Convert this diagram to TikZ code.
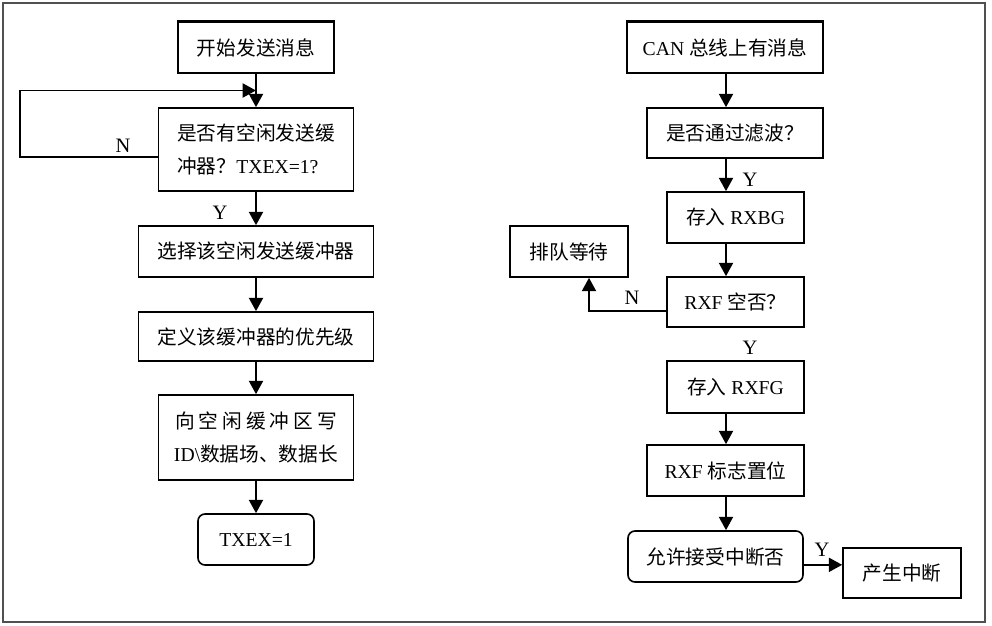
\documentclass[tikz,border=0pt]{standalone}
\usepackage{fontspec}
\setmainfont{Liberation Serif}
\newfontfamily\zhfont{Noto Sans CJK SC}
\newcommand{\zh}[1]{{\zhfont #1}}
\usetikzlibrary{arrows.meta,calc,positioning}
\definecolor{framegray}{RGB}{80,80,80}

\begin{document}
\begin{tikzpicture}[x=0.03cm, y=-0.03cm,
    box/.style={draw, rectangle, line width=1.4pt, inner sep=0pt, font=\fontsize{16.8}{28}\selectfont},
    rbox/.style={box, rounded corners=6pt},
    flow/.style={-{Triangle[length=4mm,width=4.2mm]}, line width=1.7pt},
    lab/.style={font=\fontsize{17.5}{20}\selectfont}]
    \useasboundingbox (0,0) rectangle (992,626);
    \draw[framegray, line width=1.2pt] (3,3) rectangle (985,622);

    % Sending side
    \node[box, minimum width=4.68cm, minimum height=1.53cm] (start) at (256,47.5) {\zh{开始发送消息}};
    \node[box, minimum width=5.85cm, minimum height=2.49cm, align=left] (ask) at (256,149.5) {\zh{是否有空闲发送缓}\\\zh{冲器？}TXEX=1?};
    \node[box, minimum width=7.05cm, minimum height=1.53cm] (select) at (256,251.5) {\zh{选择该空闲发送缓冲器}};
    \node[box, minimum width=7.05cm, minimum height=1.47cm] (prio) at (256,336.5) {\zh{定义该缓冲器的优先级}};
    \node[box, minimum width=5.85cm, minimum height=2.55cm, align=center] (write) at (256,437.5)
        {\makebox[4.86cm][s]{\zh{向}\hfill\zh{空}\hfill\zh{闲}\hfill\zh{缓}\hfill\zh{冲}\hfill\zh{区}\hfill\zh{写}}\\ID\textbackslash\zh{数据场、数据长}};
    \node[rbox, minimum width=3.48cm, minimum height=1.53cm] (txex) at (256,539.5) {TXEX=1};
    \draw[line width=2.4pt] (start.north west) -- (start.north east);

    \draw[flow] (start) -- (ask);
    \draw[flow] ([yshift=-0.22cm]ask.west) -- ++(-138,0) |- ($(start.south)!0.5!(ask.north)$);
    \node[lab] (n1) at (123,146) {N};
    \draw[flow] (ask) -- (select);
    \node[lab] (y1) at (220,213) {Y};
    \draw[flow] (select) -- (prio);
    \draw[flow] (prio) -- (write);
    \draw[flow] (write) -- (txex);

    % Receiving side
    \coordinate (rcol) at (726,0);
    \node[box, minimum width=5.88cm, minimum height=1.53cm] (can) at (725,47.5) {CAN \zh{总线上有消息}};
    \node[box, minimum width=5.28cm, minimum height=1.5cm] (filter) at (735,133) {\zh{是否通过滤波？}};
    \node[box, minimum width=4.11cm, minimum height=1.53cm] (rxbg) at (735.5,217.5) {\zh{存入} RXBG};
    \node[box, minimum width=3.54cm, minimum height=1.53cm] (queue) at (569,251.5) {\zh{排队等待}};
    \node[box, minimum width=4.11cm, minimum height=1.5cm] (rxf) at (735.5,302) {RXF \zh{空否？}};
    \node[box, minimum width=4.11cm, minimum height=1.56cm] (rxfg) at (735.5,387) {\zh{存入} RXFG};
    \node[box, minimum width=4.71cm, minimum height=1.53cm] (flag) at (725.5,470.5) {RXF \zh{标志置位}};
    \node[rbox, minimum width=5.25cm, minimum height=1.53cm] (allow) at (715.5,556.5) {\zh{允许接受中断否}};
    \node[box, minimum width=3.54cm, minimum height=1.5cm] (irq) at (902,573) {\zh{产生中断}};
    \draw[line width=2.4pt] (can.north west) -- (can.north east);

    \draw[flow] (rcol |- can.south) -- (rcol |- filter.north);
    \draw[flow] (rcol |- filter.south) -- (rcol |- rxbg.north);
    \node[lab] (y2) at (750,180) {Y};
    \draw[flow] (rcol |- rxbg.south) -- (rcol |- rxf.north);
    \draw[flow] ([yshift=-0.27cm]rxf.west) -| ([xshift=0.6cm]queue.south);
    \node[lab] (n2) at (632,298) {N};
    \node[lab] (y3) at (750,348) {Y};
    \draw[flow] (rcol |- rxfg.south) -- (rcol |- flag.north);
    \draw[flow] (rcol |- flag.south) -- (rcol |- allow.north);
    \draw[flow] ([yshift=-0.25cm]allow.east) -- ([yshift=-0.25cm]allow.east -| irq.west);
    \node[lab] (y4) at (822,550) {Y};
\end{tikzpicture}
\end{document}
